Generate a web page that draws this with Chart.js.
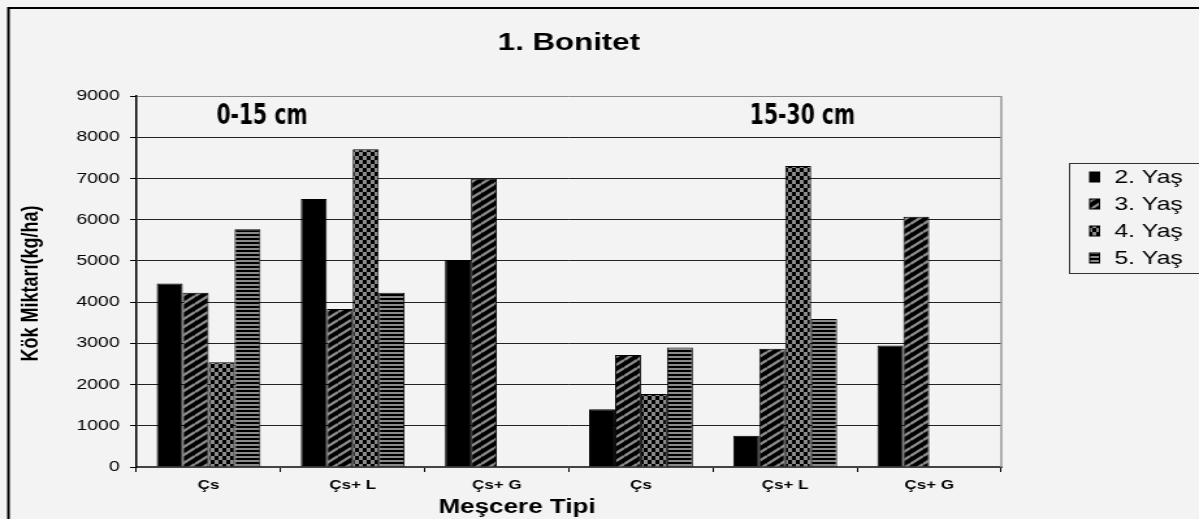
<!DOCTYPE html>
<html>
<head>
<meta charset="utf-8">
<script src="https://cdn.jsdelivr.net/npm/chart.js@4.4.1/dist/chart.umd.min.js"></script>
<style>
  html, body { margin: 0; padding: 0; background: #f3f3f3; overflow: hidden; }
  #wrap { width: 922px; height: 519px; transform: scaleX(1.3004); transform-origin: 0 0; }
</style>
</head>
<body>
<div id="wrap"><canvas id="myChart" width="922" height="519"></canvas></div>
<script>
// the original picture is stretched sideways, so the chart is drawn narrow and scaled by css
const chartTitle = '1. Bonitet';
const xAxisTitle = 'Meşcere Tipi';
const yAxisTitle = 'Kök Miktarı(kg/ha)';
const depthLabels = ['0-15 cm', '15-30 cm'];

const categories = ['Çs', 'Çs+ L', 'Çs+ G', 'Çs', 'Çs+ L', 'Çs+ G'];
const seriesNames = ['2. Yaş', '3. Yaş', '4. Yaş', '5. Yaş'];
const yas2 = [4450, 6500, 5020, 1400, 760, 2950];
const yas3 = [4230, 3830, 6990, 2720, 2870, 6070];
const yas4 = [2540, 7710, null, 1770, 7300, null];
const yas5 = [5770, 4230, null, 2900, 3590, null];
const yTicks = [0, 1000, 2000, 3000, 4000, 5000, 6000, 7000, 8000, 9000];

const FONT = '"Liberation Sans", Arial, sans-serif';
const GREY = '#8a8a8a';

function makeTile(w, h, paint) {
    const cv = document.createElement('canvas');
    cv.width = w;
    cv.height = h;
    const g = cv.getContext('2d');
    g.fillStyle = '#000';
    g.fillRect(0, 0, w, h);
    paint(g, w, h);
    return cv;
}

const tiles = [
    null,
    makeTile(10, 8, (g, w, h) => {
        g.strokeStyle = GREY;
        g.lineWidth = 2.4;
        for (let k = -1; k <= 1; k++) {
            g.beginPath();
            g.moveTo(0, h + k * h);
            g.lineTo(w, k * h);
            g.stroke();
        }
    }),
    makeTile(6, 8, (g) => {
        g.fillStyle = GREY;
        g.fillRect(0, 0, 3, 4);
        g.fillRect(3, 4, 3, 4);
    }),
    makeTile(4, 4, (g) => {
        g.fillStyle = GREY;
        g.fillRect(0, 0, 4, 2);
    })
];

const ctx = document.getElementById('myChart').getContext('2d');
const fills = tiles.map(t => t ? ctx.createPattern(t, 'repeat') : '#000');

function fitText(c, text, cx, cy, font, squeeze) {
    c.save();
    c.font = font;
    c.translate(cx, cy);
    c.scale(squeeze, 1);
    c.fillText(text, 0, 0);
    c.restore();
}

const decor = {
    id: 'decor',
    beforeDraw(chart) {
        const c = chart.ctx;
        c.save();
        c.fillStyle = '#f3f3f3';
        c.fillRect(0, 0, chart.width, chart.height);
        c.restore();
    },
    afterDraw(chart) {
        const c = chart.ctx;
        const a = chart.chartArea;
        const ys = chart.scales.y;
        const catW = (a.right - a.left) / categories.length;
        c.save();

        // right edge of plot
        c.strokeStyle = '#999';
        c.lineWidth = 1.5;
        c.beginPath();
        c.moveTo(a.right, a.top);
        c.lineTo(a.right, a.bottom);
        c.stroke();

        // outer frame, only top and left are in the picture
        c.strokeStyle = '#000';
        c.lineWidth = 2;
        c.beginPath();
        c.moveTo(chart.width + 2, 8);
        c.lineTo(6.5, 8);
        c.lineTo(6.5, chart.height + 2);
        c.stroke();

        c.fillStyle = '#000';
        c.textAlign = 'center';
        c.textBaseline = 'middle';

        c.font = 'bold 24px ' + FONT;
        c.fillText(chartTitle, (a.left + a.right) / 2, 43);

        // depth labels
        const dy = ys.getPixelForValue(8500);
        fitText(c, depthLabels[0], a.left + 0.87 * catW, dy, 'bold 28px "DejaVu Sans Condensed", sans-serif', 0.62);
        fitText(c, depthLabels[1], a.left + 4.62 * catW, dy, 'bold 28px "DejaVu Sans Condensed", sans-serif', 0.62);

        // axis titles
        c.font = 'bold 20px ' + FONT;
        c.fillText(xAxisTitle, a.left + 0.44 * (a.right - a.left), 507);

        c.save();
        c.translate(24.5, (a.top + a.bottom) / 2 + 2);
        c.rotate(-Math.PI / 2);
        c.font = 'bold 18px ' + FONT;
        c.fillText(yAxisTitle, 0, 0);
        c.restore();

        // legend
        const lx = 822;
        c.strokeStyle = '#333';
        c.lineWidth = 1;
        c.strokeRect(lx + 0.5, 163.5, chart.width, 110);
        c.textAlign = 'left';
        c.font = '19px ' + FONT;
        chart.data.datasets.forEach((ds, i) => {
            const ry = 177 + i * 27;
            c.fillStyle = ds.backgroundColor;
            c.fillRect(lx + 16, ry - 5, 7.5, 10);
            c.strokeStyle = '#000';
            c.strokeRect(lx + 16, ry - 5, 7.5, 10);
            c.fillStyle = '#000';
            c.fillText(ds.label, lx + 35, ry + 1);
        });

        c.restore();
    }
};

const seriesValues = [yas2, yas3, yas4, yas5];

new Chart(ctx, {
    type: 'bar',
    data: {
        labels: categories,
        datasets: seriesNames.map((name, i) => ({
            label: name,
            data: seriesValues[i],
            backgroundColor: fills[i],
            borderColor: '#000',
            borderWidth: 1,
            categoryPercentage: 0.72,
            barPercentage: 1.0
        }))
    },
    options: {
        responsive: false,
        animation: false,
        devicePixelRatio: 1,
        layout: { padding: { left: 0, right: 152, top: 96, bottom: 0 } },
        plugins: {
            legend: { display: false },
            title: { display: false },
            tooltip: { enabled: false }
        },
        scales: {
            x: {
                grid: {
                    display: true,
                    drawOnChartArea: false,
                    drawTicks: true,
                    tickLength: 5,
                    color: '#000',
                    offset: true
                },
                border: { color: '#444', width: 2 },
                ticks: {
                    font: { family: FONT, weight: 'bold', size: 13 },
                    color: '#000',
                    padding: 6,
                    maxRotation: 0,
                    autoSkip: false
                },
                afterFit(scale) { scale.height = 52; }
            },
            y: {
                min: yTicks[0],
                max: yTicks[yTicks.length - 1],
                afterBuildTicks(scale) { scale.ticks = yTicks.map(v => ({ value: v })); },
                ticks: {
                    font: { family: FONT, size: 15 },
                    color: '#000',
                    padding: 8,
                    callback: (v) => String(v)
                },
                grid: {
                    color: (c) => (c.tick && c.tick.value === 9000 ? '#888' : '#222'),
                    lineWidth: 1,
                    tickLength: 5,
                    tickColor: '#000'
                },
                border: { color: '#000', width: 1.5 },
                afterFit(scale) { scale.width = 105; }
            }
        }
    },
    plugins: [decor]
});
</script>
</body>
</html>
